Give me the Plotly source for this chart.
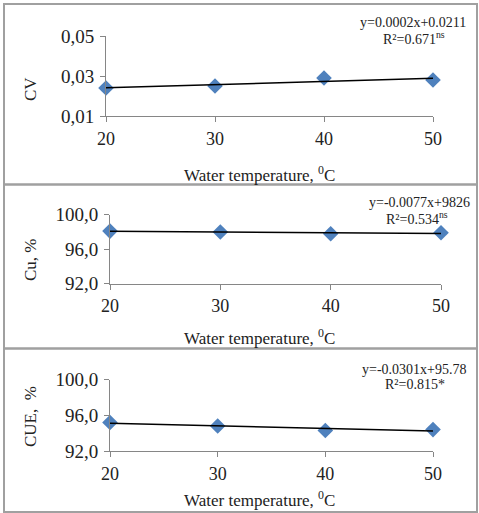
import numpy as np
import plotly.graph_objects as go

# ---- data ----
temperature = [20, 30, 40, 50]
cv_values = [0.024, 0.025, 0.029, 0.028]
cu_values = [98.1, 98.0, 97.8, 97.9]
cue_values = [95.2, 94.8, 94.3, 94.4]

x_ticks = [20, 30, 40, 50]
cv_tickvals = [0.01, 0.03, 0.05]
cv_ticktext = ["0,01", "0,03", "0,05"]
pct_tickvals = [92, 96, 100]
pct_ticktext = ["92,0", "96,0", "100,0"]

y_titles = ["CV", "Cu, %", "CUE,  %"]
x_title = "Water temperature, <sup>0</sup>C"
eq_lines = [
    ("y=0.0002x+0.0211", "R²=0.671<sup>ns</sup>"),
    ("y=-0.0077x+9826", "R²=0.534<sup>ns</sup>"),
    ("y=-0.0301x+95.78", "R²=0.815*"),
]

W, H = 479, 513
FONT = "Liberation Serif"
MARK = "#4F81BD"
AX = "#868686"

def px(x):
    return x / W

def py(y):
    return 1 - y / H

# plot areas in pixels: (x0, x1, ybottom, ytop)
areas = [(106, 433, 116, 36), (110, 441, 283.7, 214.7), (110, 433, 451, 379.7)]
series = [cv_values, cu_values, cue_values]
yranges = [[0.01, 0.05], [92, 100], [92, 100]]
ytv = [(cv_tickvals, cv_ticktext), (pct_tickvals, pct_ticktext), (pct_tickvals, pct_ticktext)]

fig = go.Figure()
layout = {}
annotations = []
for i, (vals, area) in enumerate(zip(series, areas)):
    n = "" if i == 0 else str(i + 1)
    xa, ya = "x" + n, "y" + n
    fig.add_trace(go.Scatter(x=temperature, y=vals, mode="markers",
                             marker=dict(symbol="diamond", size=12, color=MARK),
                             xaxis=xa, yaxis=ya, showlegend=False, cliponaxis=False))
    slope, icpt = np.polyfit(temperature, vals, 1)
    xs = [temperature[0], temperature[-1]]
    fig.add_trace(go.Scatter(x=xs, y=[slope * v + icpt for v in xs], mode="lines",
                             line=dict(color="black", width=1.5),
                             xaxis=xa, yaxis=ya, showlegend=False))
    x0, x1, yb, yt = area
    layout["xaxis" + n] = dict(domain=[px(x0), px(x1)], range=[20, 50], anchor=ya,
                               tickvals=x_ticks, ticks="outside", ticklen=5, tickcolor=AX,
                               showline=True, linecolor=AX, linewidth=1, showgrid=False,
                               zeroline=False, ticklabelstandoff=1, automargin=False,
                               tickfont=dict(family=FONT, size=18, color="#222"))
    tv, tt = ytv[i]
    layout["yaxis" + n] = dict(domain=[py(yb), py(yt)], range=yranges[i], anchor=xa,
                               tickvals=tv, ticktext=tt, ticks="outside", ticklen=5,
                               tickcolor=AX, showline=True, linecolor=AX, linewidth=1,
                               showgrid=False, zeroline=False, automargin=False,
                               ticklabelstandoff=2,
                               tickfont=dict(family=FONT, size=19, color="#222"))

# axis titles and equations
ytitle_pos = [89, 260, 417]
xtitle_pos = [174, 337, 499]
eq_pos = [(468, 23, 414, 38), (472, 203, 417, 218), (468, 369, 415, 384)]
common = dict(xref="paper", yref="paper", showarrow=False, yanchor="middle")
for i in range(3):
    annotations.append(dict(text=y_titles[i], x=px(30), y=py(ytitle_pos[i]), textangle=-90,
                            xanchor="center",
                            font=dict(family=FONT, size=17, color="#222"), **common))
    annotations.append(dict(text=x_title, x=px(259), y=py(xtitle_pos[i]), xanchor="center",
                            font=dict(family=FONT, size=17, color="#222"), **common))
    ex, ey, rx, ry = eq_pos[i]
    annotations.append(dict(text=eq_lines[i][0], x=px(ex), y=py(ey), xanchor="right",
                            font=dict(family=FONT, size=14, color="#222"), **common))
    annotations.append(dict(text=eq_lines[i][1], x=px(rx), y=py(ry), xanchor="center",
                            font=dict(family=FONT, size=14, color="#222"), **common))

# panel borders
shapes = []
for (t, b) in [(4, 184.5), (184.5, 348.5), (348.5, 512)]:
    shapes.append(dict(type="rect", xref="paper", yref="paper", x0=px(4), x1=px(477),
                       y0=py(b), y1=py(t), line=dict(color="#a0a0a0", width=2)))

fig.update_layout(width=W, height=H, margin=dict(l=0, r=0, t=0, b=0, pad=0),
                  paper_bgcolor="white", plot_bgcolor="white",
                  annotations=annotations, shapes=shapes, **layout)
fig.write_html("out.html", config={"displayModeBar": False},
               post_script="document.body.style.margin='0';document.body.style.overflow='hidden';")
